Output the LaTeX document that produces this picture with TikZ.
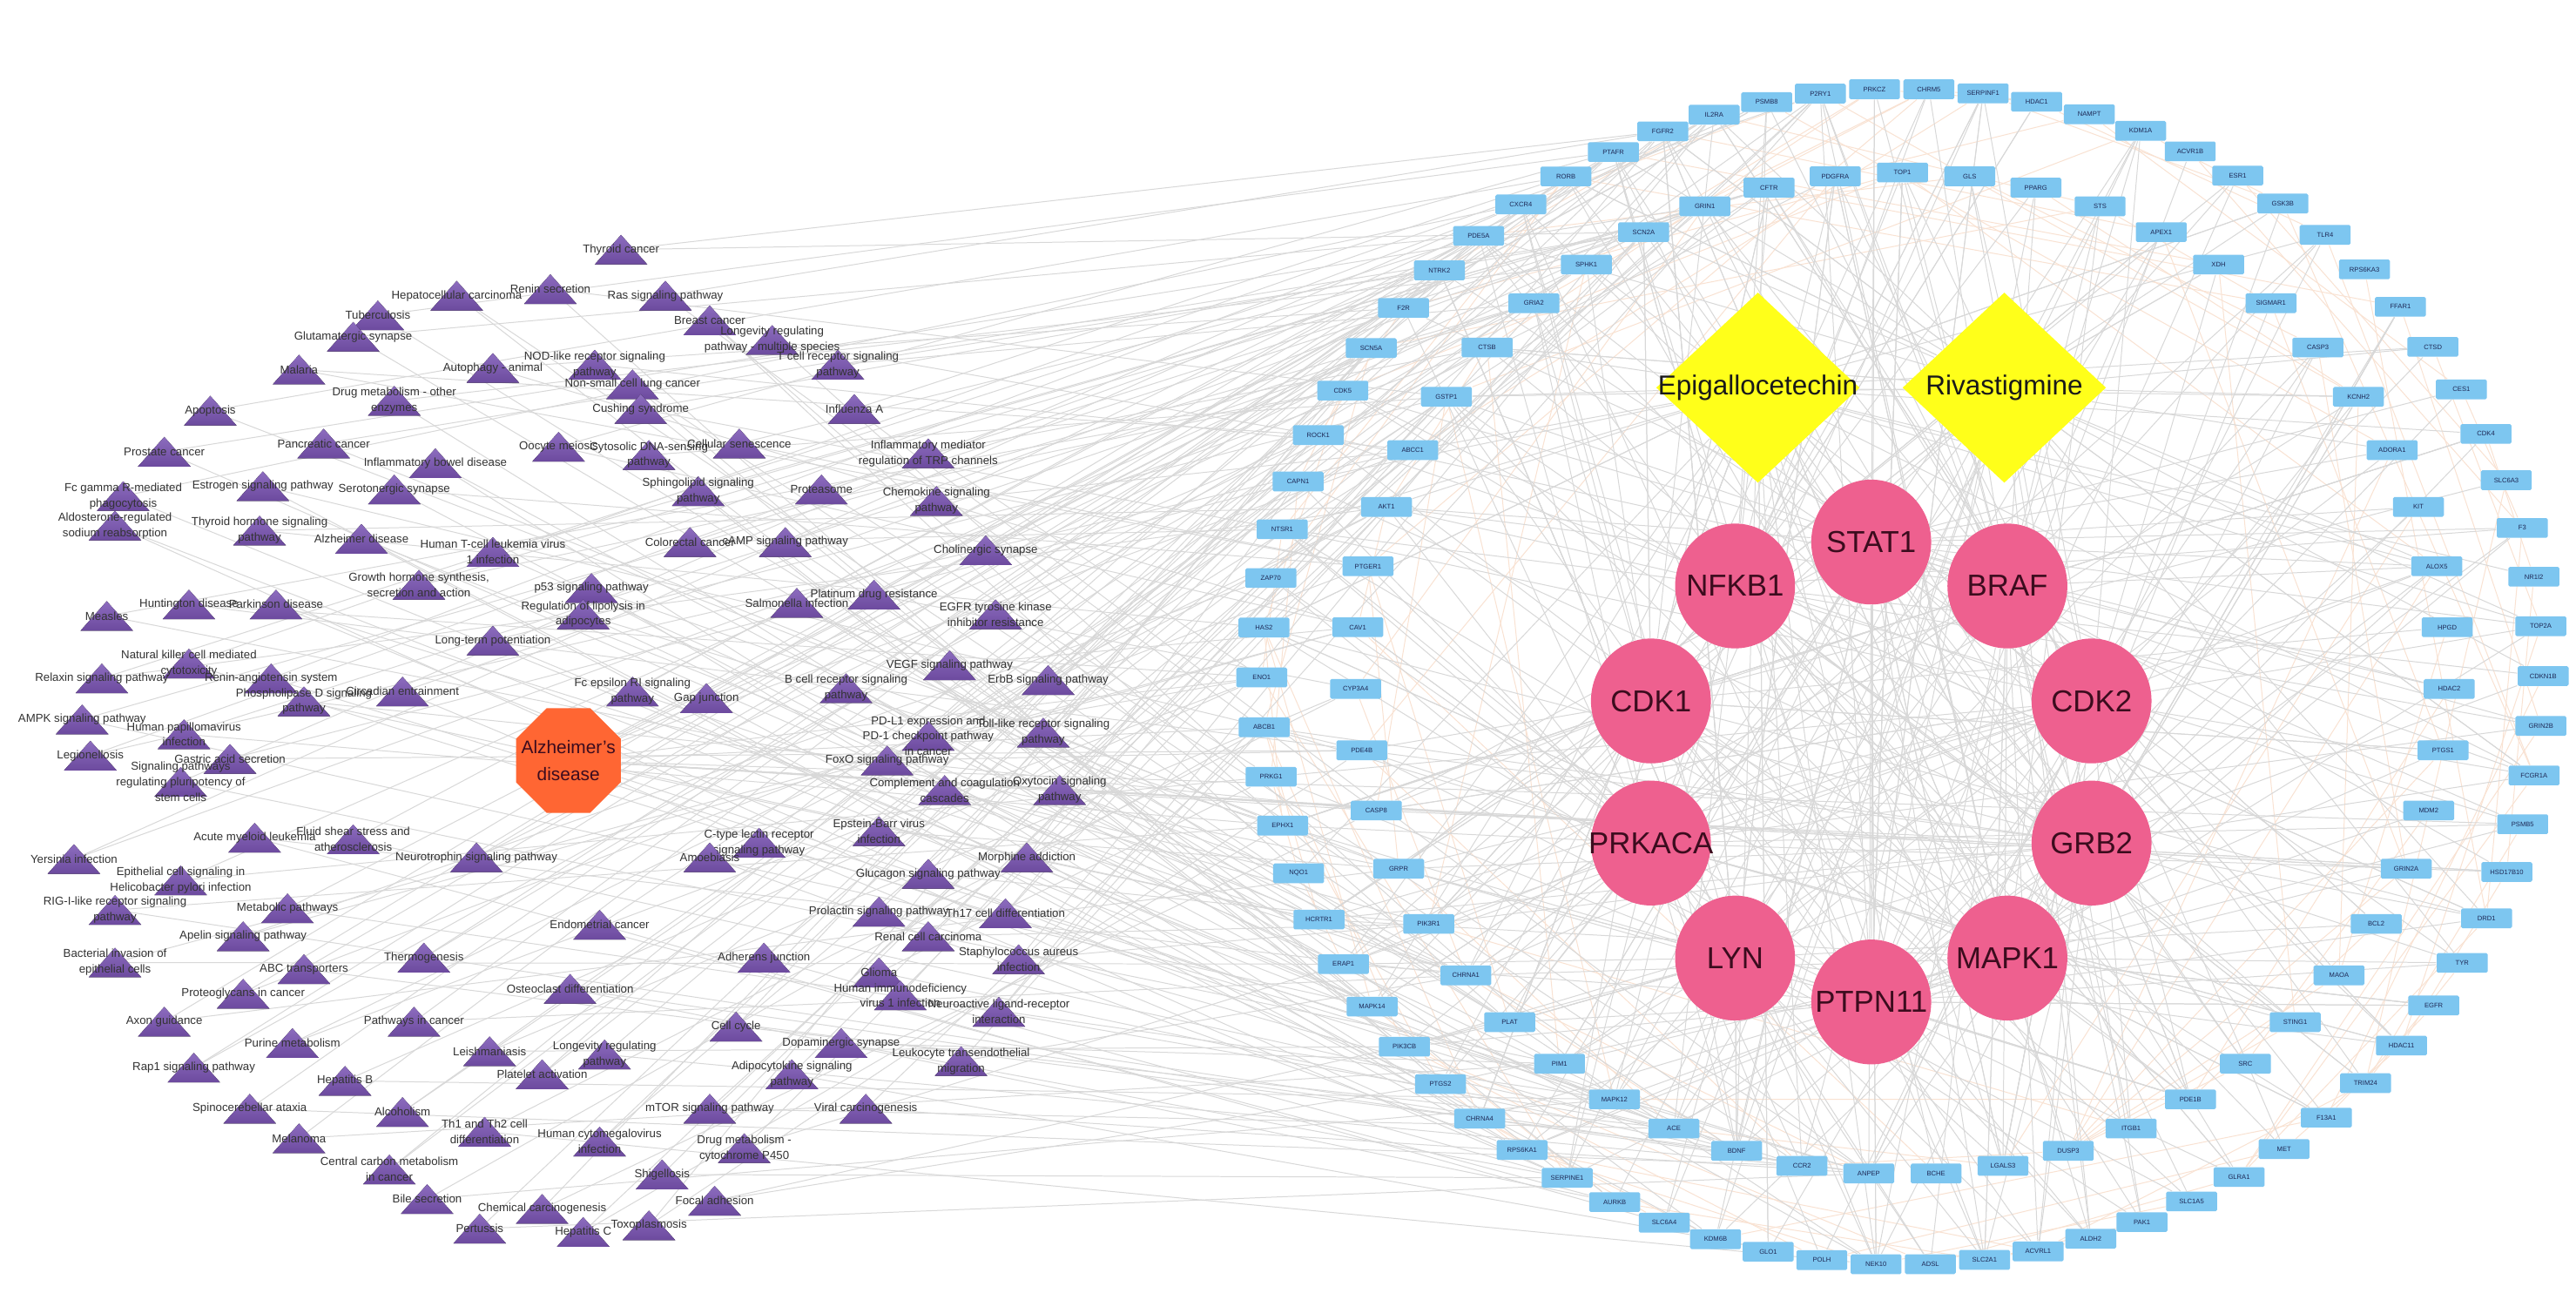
\documentclass[tikz,border=0pt]{standalone}
\usepackage{fontspec}
\setmainfont{Liberation Sans}
\usepackage{tikz}
\usetikzlibrary{shapes.geometric,backgrounds}

\definecolor{geneblue}{RGB}{125,198,240}
\definecolor{genetext}{RGB}{30,40,85}
\definecolor{hubpink}{RGB}{238,96,143}
\definecolor{hubtext}{RGB}{60,12,30}
\definecolor{drugyellow}{RGB}{255,255,26}
\definecolor{adorange}{RGB}{255,102,51}
\definecolor{pathtop}{RGB}{140,108,190}
\definecolor{pathbot}{RGB}{108,74,158}
\definecolor{edgegray}{RGB}{216,216,216}
\definecolor{edgepeach}{RGB}{249,226,210}

\tikzset{
gene/.style={rectangle,rounded corners=0.5pt,fill=geneblue,minimum width=0.62cm,minimum height=0.24cm,inner sep=0pt,text=genetext,font=\fontsize{2.3}{2.5}\selectfont},
hub/.style={ellipse,fill=hubpink,minimum width=1.46cm,minimum height=1.52cm,inner sep=0pt},
hublbl/.style={text=hubtext,font=\fontsize{10.5}{12}\selectfont},
drug/.style={diamond,fill=drugyellow,minimum width=2.48cm,minimum height=2.32cm,inner sep=0pt},
druglbl/.style={text=black!90,font=\fontsize{9.5}{11}\selectfont},
disease/.style={regular polygon,regular polygon sides=8,fill=adorange,minimum size=1.38cm,inner sep=0pt},
adlbl/.style={text=hubtext,align=center,font=\fontsize{6.3}{9.5}\selectfont},
pathtri/.style={top color=pathtop,bottom color=pathbot,draw=none},
pathlbl/.style={text=black!80,font=\fontsize{4}{5.4}\selectfont,align=center,inner sep=0pt},
link/.style={edgegray,line width=0.3pt},
glink/.style={edgepeach,line width=0.3pt}
}

\begin{document}
\begin{tikzpicture}[x=0.02cm,y=-0.02cm]
\useasboundingbox (0,0) rectangle (1568,799);

% targets, outer and inner ring
\foreach \g [count=\k] in {PRKCZ,CHRM5,SERPINF1,HDAC1,NAMPT,KDM1A,ACVR1B,ESR1,GSK3B,TLR4,RPS6KA3,FFAR1,CTSD,CES1,CDK4,SLC6A3,F3,NR1I2,TOP2A,CDKN1B,GRIN2B,FCGR1A,PSMB5,HSD17B10,DRD1,TYR,EGFR,HDAC11,TRIM24,F13A1,MET,GLRA1,SLC1A5,PAK1,ALDH2,ACVRL1,SLC2A1,ADSL,NEK10,POLH,GLO1,KDM6B,SLC6A4,AURKB,SERPINE1,RPS6KA1,CHRNA4,PTGS2,PIK3CB,MAPK14,ERAP1,HCRTR1,NQO1,EPHX1,PRKG1,ABCB1,ENO1,HAS2,ZAP70,NTSR1,CAPN1,ROCK1,CDK5,SCN5A,F2R,NTRK2,PDE5A,CXCR4,RORB,PTAFR,FGFR2,IL2RA,PSMB8,P2RY1}
\node[gene] (b\k) at ({1158+390*cos(92.5-(360/74)*(\k-1))},{412-358*sin(92.5-(360/74)*(\k-1))}) {\g};
\foreach \g [count=\k from 75] in {TOP1,GLS,PPARG,STS,APEX1,XDH,SIGMAR1,CASP3,KCNH2,ADORA1,KIT,ALOX5,HPGD,HDAC2,PTGS1,MDM2,GRIN2A,BCL2,MAOA,STING1,SRC,PDE1B,ITGB1,DUSP3,LGALS3,BCHE,ANPEP,CCR2,BDNF,ACE,MAPK12,PIM1,PLAT,CHRNA1,PIK3R1,GRPR,CASP8,PDE4B,CYP3A4,CAV1,PTGER1,AKT1,ABCC1,GSTP1,CTSB,GRIA2,SPHK1,SCN2A,GRIN1,CFTR,PDGFRA}
\node[gene] (b\k) at ({1158+333*cos(90-(360/51)*(\k-75))},{410-305*sin(90-(360/51)*(\k-75))}) {\g};

% hub targets
\foreach \g [count=\i] in {STAT1,BRAF,CDK2,GRB2,MAPK1,PTPN11,LYN,PRKACA,CDK1,NFKB1}{
\node[hub] (h\i) at ({1139+141*cos(90-36*(\i-1))},{470-140*sin(90-36*(\i-1))}) {};
\node[hublbl] at (h\i) {\g};
}

% drugs
\node[drug] (d1) at (1070,236) {};
\node[druglbl] at (d1) {Epigallocetechin};
\node[drug] (d2) at (1220,236) {};
\node[druglbl] at (d2) {Rivastigmine};

% disease
\node[disease] (ad) at (346,463) {};
\node[adlbl] at (ad) {Alzheimer's\\disease};

% pathways
\foreach \x/\y/\txt [count=\i] in {
278/180/Hepatocellular carcinoma, 230/192/Tuberculosis, 335/176/Renin secretion,
378/152/Thyroid cancer, 405/180/Ras signaling pathway, 432/195/Breast cancer,
215/205/Glutamatergic synapse, 470/207/{Longevity regulating\\pathway - multiple species},
510/222/{T cell receptor signaling\\pathway}, 182/225/Malaria, 300/224/Autophagy - animal,
362/222/{NOD-like receptor signaling\\pathway}, 385/234/Non-small cell lung cancer,
240/244/{Drug metabolism - other\\enzymes}, 390/249/Cushing syndrome, 520/249/Influenza A,
128/250/Apoptosis, 197/270/Pancreatic cancer, 100/275/Prostate cancer,
265/282/Inflammatory bowel disease, 340/272/Oocyte meiosis,
395/277/{Cytosolic DNA-sensing\\pathway}, 450/270/Cellular senescence,
565/276/{Inflammatory mediator\\regulation of TRP channels}, 160/296/Estrogen signaling pathway,
75/302/{Fc gamma R-mediated\\phagocytosis}, 240/298/Serotonergic synapse,
425/299/{Sphingolipid signaling\\pathway}, 500/298/Proteasome, 570/305/{Chemokine signaling\\pathway},
158/323/{Thyroid hormone signaling\\pathway}, 220/328/Alzheimer disease,
70/320/{Aldosterone-regulated\\sodium reabsorption}, 300/336/{Human T-cell leukemia virus\\1 infection},
420/330/Colorectal cancer, 478/330/cAMP signaling pathway, 600/335/Cholinergic synapse,
255/356/{Growth hormone synthesis,\\secretion and action}, 360/358/p53 signaling pathway,
115/368/Huntington disease, 168/368/Parkinson disease, 65/375/Measles,
355/374/{Regulation of lipolysis in\\adipocytes}, 300/390/Long-term potentiation,
485/367/Salmonella infection, 532/362/Platinum drug resistance,
606/374/{EGFR tyrosine kinase\\inhibitor resistance}, 115/404/{Natural killer cell mediated\\cytotoxicity},
62/413/Relaxin signaling pathway, 165/413/Renin-angiotensin system,
185/427/{Phospholipase D signaling\\pathway}, 245/421/Circadian entrainment,
385/421/{Fc epsilon RI signaling\\pathway}, 430/425/Gap junction,
515/419/{B cell receptor signaling\\pathway}, 578/405/VEGF signaling pathway,
638/414/ErbB signaling pathway, 50/438/AMPK signaling pathway,
112/447/{Human papillomavirus\\infection}, 140/462/Gastric acid secretion,
565/448/{PD-L1 expression and\\PD-1 checkpoint pathway\\in cancer}, 635/446/{Toll-like receptor signaling\\pathway},
540/463/FoxO signaling pathway, 55/460/Legionellosis,
110/476/{Signaling pathways\\regulating pluripotency of\\stem cells}, 575/481/{Complement and coagulation\\cascades},
645/481/{Oxytocin signaling\\pathway}, 155/510/Acute myeloid leukemia,
215/511/{Fluid shear stress and\\atherosclerosis}, 290/522/Neurotrophin signaling pathway,
462/513/{C-type lectin receptor\\signaling pathway}, 535/506/{Epstein-Barr virus\\infection},
432/522/Amoebiasis, 565/532/Glucagon signaling pathway, 625/522/Morphine addiction,
45/523/Yersinia infection, 110/536/{Epithelial cell signaling in\\Helicobacter pylori infection},
70/554/{RIG-I-like receptor signaling\\pathway}, 175/553/Metabolic pathways,
148/570/Apelin signaling pathway, 365/563/Endometrial cancer,
535/555/Prolactin signaling pathway, 612/556/Th17 cell differentiation,
565/570/Renal cell carcinoma, 258/583/Thermogenesis, 465/583/Adherens junction,
620/584/{Staphylococcus aureus\\infection}, 70/586/{Bacterial invasion of\\epithelial cells},
185/590/ABC transporters, 347/602/Osteoclast differentiation, 535/592/Glioma,
548/606/{Human immunodeficiency\\virus 1 infection}, 148/605/Proteoglycans in cancer,
608/616/{Neuroactive ligand-receptor\\interaction}, 100/622/Axon guidance,
252/622/Pathways in cancer, 178/635/Purine metabolism, 448/625/Cell cycle,
298/640/Leishmaniasis, 368/642/{Longevity regulating\\pathway}, 330/654/Platelet activation,
512/635/Dopaminergic synapse, 585/646/{Leukocyte transendothelial\\migration},
118/650/Rap1 signaling pathway, 210/658/Hepatitis B, 482/654/{Adipocytokine signaling\\pathway},
152/675/Spinocerebellar ataxia, 245/677/Alcoholism, 295/689/{Th1 and Th2 cell\\differentiation},
432/675/mTOR signaling pathway, 527/675/Viral carcinogenesis,
365/695/{Human cytomegalovirus\\infection}, 182/693/Melanoma,
453/699/{Drug metabolism -\\cytochrome P450}, 237/712/{Central carbon metabolism\\in cancer},
403/715/Shigellosis, 260/730/Bile secretion, 435/731/Focal adhesion,
330/736/Chemical carcinogenesis, 292/748/Pertussis,
355/750/Hepatitis C, 395/746/Toxoplasmosis}{
\fill[pathtri] (\x-16,\y+9) -- (\x+16,\y+9) -- (\x,\y-9) -- cycle;
\node[pathlbl] (t\i) at (\x,\y) {\txt};
\xdef\ntri{\i}
}

\begin{pgfonlayer}{background}
\fill[white] (0,0) rectangle (1568,799);
\pgfmathsetseed{11}
\foreach \k in {1,...,125}{
\pgfmathrandominteger{\d}{2}{14}
\pgfmathtruncatemacro{\m}{mod(\k+\d-1,125)+1}
\draw[glink] (b\k) -- (b\m);
}
\foreach \c in {d1,d2,h1,h2,h3,h4,h5,h6,h7,h8,h9,h10}{
\foreach \n in {1,...,38}{
\pgfmathrandominteger{\j}{1}{125}
\draw[link] (\c) -- (b\j);
}}
\foreach \i in {1,...,\ntri}{
\pgfmathrandominteger{\j}{39}{74}
\draw[link] (t\i.center) -- (b\j);
\pgfmathrandominteger{\j}{101}{125}
\draw[link] (t\i.center) -- (b\j);
}
\foreach \n in {1,...,14}{
\pgfmathrandominteger{\j}{1}{125}
\draw[link] (ad) -- (b\j);
}
\end{pgfonlayer}
\end{tikzpicture}
\end{document}
